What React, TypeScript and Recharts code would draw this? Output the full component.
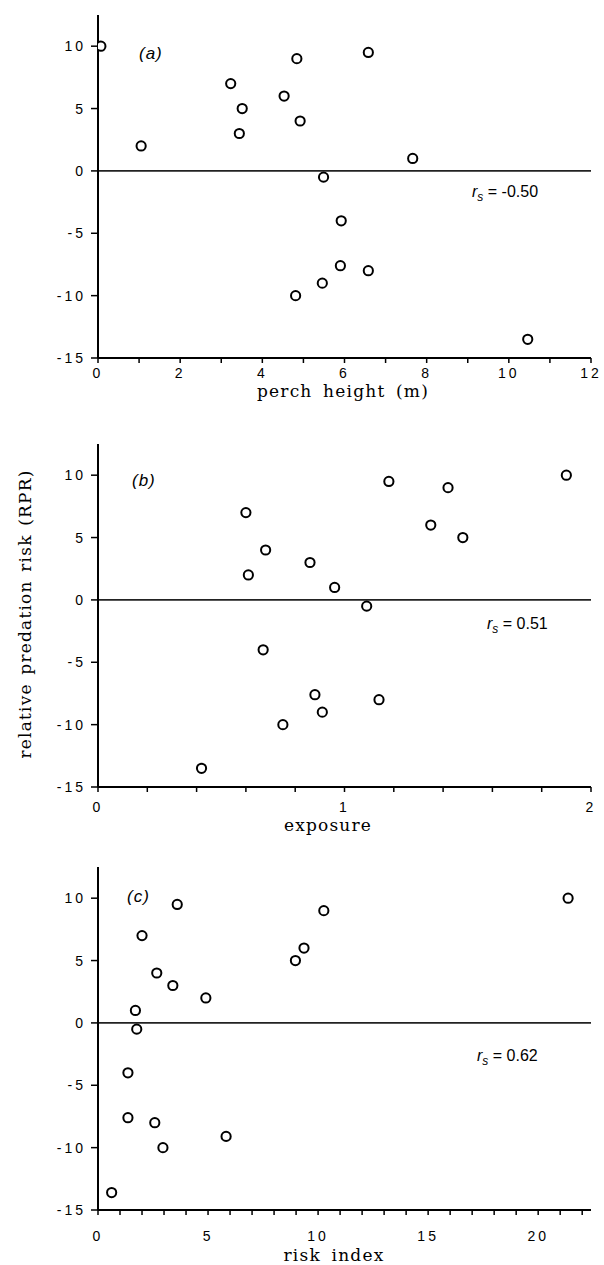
import { ScatterChart, Scatter, XAxis, YAxis, ReferenceLine } from "recharts"

// panel (a): perch height (m) vs RPR
const perchHeight = [0.07, 1.05, 3.23, 3.51, 3.44, 4.53, 4.84, 4.92, 5.49, 6.58, 7.66, 4.81, 5.46, 5.92, 5.9, 6.58, 10.46]
const rprA = [10, 2, 7, 5, 3, 6, 9, 4, -0.5, 9.5, 1, -10, -9, -4, -7.6, -8, -13.5]

// panel (b): exposure vs RPR
const exposure = [0.6, 0.68, 0.61, 0.86, 0.96, 1.09, 1.18, 1.42, 1.35, 1.48, 1.9, 0.67, 0.88, 0.91, 0.75, 0.42, 1.14]
const rprB = [7, 4, 2, 3, 1, -0.5, 9.5, 9, 6, 5, 10, -4, -7.6, -9, -10, -13.5, -8]

// panel (c): risk index vs RPR
const riskIndex = [3.6, 2.0, 2.67, 3.4, 4.9, 1.7, 1.76, 8.97, 9.36, 10.26, 21.36, 1.36, 1.36, 2.58, 2.95, 5.82, 0.62]
const rprC = [9.5, 7, 4, 3, 2, 1, -0.5, 5, 6, 9, 10, -4, -7.6, -8, -10, -9.1, -13.6]

const yTicks = [-15, -10, -5, 0, 5, 10]
const aTicks = [0, 1, 2, 3, 4, 5, 6, 7, 8, 9, 10, 11, 12]
const aLabels = [0, 2, 4, 6, 8, 10, 12]
const bTicks = [0, 0.2, 0.4, 0.6, 0.8, 1, 1.2, 1.4, 1.6, 1.8, 2]
const bLabels = [0, 1, 2]
const cTicks = [0, 1, 2, 3, 4, 5, 6, 7, 8, 9, 10, 11, 12, 13, 14, 15, 16, 17, 18, 19, 20, 21, 22]
const cLabels = [0, 5, 10, 15, 20]

const zip = (xs: number[], ys: number[]) => xs.map((x, i) => ({ x, y: ys[i] }))

const sans = "'Liberation Sans', Arial, sans-serif"
const serif = "'DejaVu Serif', serif"

const Ring = (p: any) => (
  <circle cx={p.cx} cy={p.cy} r={4.6} fill="#fff" stroke="#000" strokeWidth={2} />
)

const tickStyle = { fontFamily: sans, fontSize: 14, fill: "#000", letterSpacing: 3 }

function Panel(props: any) {
  const { data, domain, ticks, labels, top, tickMargin } = props
  return (
    <div style={{ position: "absolute", left: 0, top: top - 15 }}>
      <ScatterChart width={604} height={400} margin={{ top: 15, right: 13, bottom: 2, left: 38 }}>
        <XAxis
          type="number"
          dataKey="x"
          domain={domain}
          ticks={ticks}
          interval={0}
          allowDataOverflow
          tickFormatter={(v: number) => (labels.some((l: number) => Math.abs(l - v) < 1e-6) ? String(v) : "")}
          tick={tickStyle}
          tickSize={5}
          tickMargin={tickMargin}
          height={40}
          axisLine={{ stroke: "#000", strokeWidth: 2 }}
          tickLine={{ stroke: "#000", strokeWidth: 1.5 }}
        />
        <YAxis
          type="number"
          dataKey="y"
          domain={[-15, 12.5]}
          ticks={yTicks}
          interval={0}
          allowDataOverflow
          tick={tickStyle}
          tickSize={7}
          tickMargin={5}
          width={60}
          axisLine={{ stroke: "#000", strokeWidth: 2 }}
          tickLine={{ stroke: "#000", strokeWidth: 1.5 }}
        />
        <ReferenceLine y={0} stroke="#222" strokeWidth={1.6} />
        <Scatter data={data} shape={Ring} isAnimationActive={false} />
      </ScatterChart>
    </div>
  )
}

const tagStyle = (left: number, top: number): any => ({
  position: "absolute", left, top, fontFamily: sans, fontStyle: "italic", fontSize: 17, letterSpacing: 1,
})

const rsStyle = (left: number, top: number): any => ({
  position: "absolute", left, top, fontFamily: sans, fontSize: 16, whiteSpace: "nowrap",
})

const titleStyle = (cx: number, cy: number): any => ({
  position: "absolute", left: cx - 150, top: cy - 11, width: 300, textAlign: "center",
  fontFamily: serif, fontSize: 17, letterSpacing: 1.2, wordSpacing: 4,
})

function Rs({ value }: { value: string }) {
  return (
    <span>
      <i>r</i>
      <sub style={{ fontSize: 12, fontStyle: "italic" }}>s</sub> = {value}
    </span>
  )
}

export default function App() {
  return (
    <div style={{ position: "absolute", left: 0, top: 0, width: 604, height: 1265, background: "#fff" }}>
      <Panel data={zip(perchHeight, rprA)} domain={[0, 12]} ticks={aTicks} labels={aLabels} top={15} tickMargin={5} />
      <Panel data={zip(exposure, rprB)} domain={[0, 2]} ticks={bTicks} labels={bLabels} top={444} tickMargin={10} />
      <Panel data={zip(riskIndex, rprC)} domain={[0, 22.4]} ticks={cTicks} labels={cLabels} top={866.5} tickMargin={16} />

      <div style={tagStyle(139, 44)}>(a)</div>
      <div style={tagStyle(132, 471)}>(b)</div>
      <div style={tagStyle(127, 887)}>(c)</div>

      <div style={rsStyle(472, 183)}><Rs value="-0.50" /></div>
      <div style={rsStyle(487, 615)}><Rs value="0.51" /></div>
      <div style={rsStyle(477, 1047)}><Rs value="0.62" /></div>

      <div style={titleStyle(343, 392)}>perch height (m)</div>
      <div style={titleStyle(328, 826)}>exposure</div>
      <div style={titleStyle(334, 1256)}>risk index</div>

      <div
        style={{
          position: "absolute", left: 25 - 160, top: 615 - 11, width: 320, textAlign: "center",
          fontFamily: serif, fontSize: 17, letterSpacing: 1.2, wordSpacing: 2,
          transform: "rotate(-90deg)", whiteSpace: "nowrap",
        }}
      >
        relative predation risk (RPR)
      </div>
    </div>
  )
}
